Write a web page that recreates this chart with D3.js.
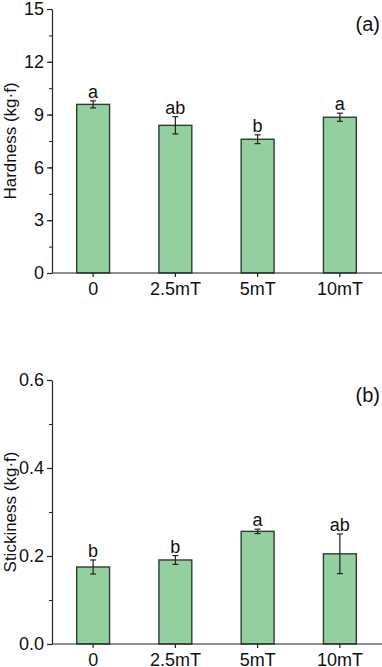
<!DOCTYPE html>
<html>
<head>
<meta charset="utf-8">
<script src="https://cdn.jsdelivr.net/npm/d3@7"></script>
<style>
  body { margin: 0; background: #fff; }
  svg { display: block; }
  svg text { font-family: "Liberation Sans", Arial, sans-serif; }
</style>
</head>
<body>
<svg id="chart" width="382" height="667"></svg>
<script>
const categories = ["0", "2.5mT", "5mT", "10mT"];

const hardness = [9.58, 8.39, 7.6, 8.85];
const hardnessErr = [0.2, 0.49, 0.25, 0.23];
const hardnessLetters = ["a", "ab", "b", "a"];
const hardnessTicks = [0, 3, 6, 9, 12, 15];

const stickiness = [0.175, 0.191, 0.256, 0.205];
const stickinessErr = [0.016, 0.01, 0.005, 0.045];
const stickinessLetters = ["b", "b", "a", "ab"];
const stickinessTicks = [0, 0.2, 0.4, 0.6];

const FILL = "#93cf9f";
const STROKE = "#2c3e31";

const svg = d3.select("#chart");

function panel(opts) {
  const g = svg.append("g");

  const x = d3.scaleBand()
    .domain(categories)
    .range([52, 381])
    .paddingInner(0.6)
    .paddingOuter(0.3);

  const y = d3.scaleLinear()
    .domain(opts.domain)
    .range([opts.bottom, opts.top]);

  const rows = categories.map((c, i) => ({
    cat: c, v: opts.values[i], e: opts.errors[i], l: opts.letters[i]
  }));

  g.selectAll("rect.bar")
    .data(rows)
    .join("rect")
    .attr("class", "bar")
    .attr("x", d => x(d.cat))
    .attr("y", d => y(d.v))
    .attr("width", x.bandwidth())
    .attr("height", d => y(0) - y(d.v))
    .attr("fill", FILL)
    .attr("stroke", STROKE)
    .attr("stroke-width", 1.4);

  // error bars
  const eb = g.selectAll("g.err")
    .data(rows)
    .join("g")
    .attr("class", "err")
    .attr("stroke", "#222")
    .attr("stroke-width", 1.2);
  eb.append("line")
    .attr("x1", d => x(d.cat) + x.bandwidth() / 2)
    .attr("x2", d => x(d.cat) + x.bandwidth() / 2)
    .attr("y1", d => y(d.v - d.e))
    .attr("y2", d => y(d.v + d.e));
  eb.append("line")
    .attr("x1", d => x(d.cat) + x.bandwidth() / 2 - 3)
    .attr("x2", d => x(d.cat) + x.bandwidth() / 2 + 3)
    .attr("y1", d => y(d.v + d.e))
    .attr("y2", d => y(d.v + d.e));
  eb.append("line")
    .attr("x1", d => x(d.cat) + x.bandwidth() / 2 - 3)
    .attr("x2", d => x(d.cat) + x.bandwidth() / 2 + 3)
    .attr("y1", d => y(d.v - d.e))
    .attr("y2", d => y(d.v - d.e));

  // significance letters
  g.selectAll("text.letter")
    .data(rows)
    .join("text")
    .attr("class", "letter")
    .attr("x", d => x(d.cat) + x.bandwidth() / 2)
    .attr("y", d => y(d.v + d.e) - 3)
    .attr("text-anchor", "middle")
    .style("font-size", "18px")
    .attr("fill", "#111")
    .text(d => d.l);

  // y axis: minor ticks
  const minor = d3.range(opts.domain[0], opts.domain[1] + 1e-9, opts.minorStep);
  g.append("g")
    .attr("transform", "translate(52,0)")
    .call(d3.axisLeft(y).tickValues(minor).tickSize(3).tickFormat(""))
    .call(a => a.select(".domain").remove())
    .selectAll("line").attr("stroke", "#222");

  const ya = g.append("g")
    .attr("transform", "translate(52,0)")
    .call(d3.axisLeft(y).tickValues(opts.ticks).tickSize(5).tickPadding(3)
      .tickSizeOuter(0).tickFormat(opts.format));
  ya.select(".domain").attr("stroke", "#222").attr("stroke-width", 1.2);
  ya.selectAll("line").attr("stroke", "#222").attr("stroke-width", 1.2);
  ya.selectAll("text").style("font-size", "18px").attr("fill", "#111");

  // x axis
  const xa = g.append("g")
    .attr("transform", `translate(0,${opts.bottom})`)
    .call(d3.axisBottom(x).tickSize(4).tickPadding(5).tickSizeOuter(0));
  xa.select(".domain").attr("stroke", "#222").attr("stroke-width", 1.2)
    .attr("d", `M52,0H382`);
  xa.selectAll("line").attr("stroke", "#222").attr("stroke-width", 1.2);
  xa.selectAll("text").style("font-size", "18px").attr("fill", "#111");

  // axis title
  g.append("text")
    .attr("transform", `translate(16,${(opts.top + opts.bottom) / 2}) rotate(-90)`)
    .attr("text-anchor", "middle")
    .style("font-size", "17px")
    .attr("fill", "#111")
    .text(opts.title);

  // panel label
  g.append("text")
    .attr("x", 380)
    .attr("y", opts.top + 22)
    .attr("text-anchor", "end")
    .style("font-size", "20px")
    .attr("fill", "#111")
    .text(opts.label);
}

panel({
  values: hardness, errors: hardnessErr, letters: hardnessLetters,
  ticks: hardnessTicks, domain: [0, 15], minorStep: 1.5,
  top: 9, bottom: 273, format: d3.format("d"),
  title: "Hardness (kg·f)", label: "(a)"
});

panel({
  values: stickiness, errors: stickinessErr, letters: stickinessLetters,
  ticks: stickinessTicks, domain: [0, 0.6], minorStep: 0.1,
  top: 380, bottom: 644, format: d3.format(".1f"),
  title: "Stickiness (kg·f)", label: "(b)"
});
</script>
</body>
</html>
